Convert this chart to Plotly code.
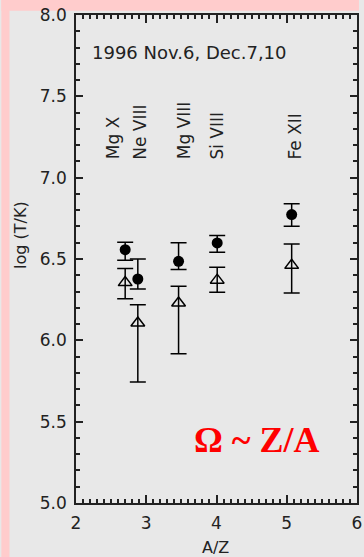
import plotly.graph_objects as go

# ---- data ----
ions = ["Mg X", "Ne VIII", "Mg VIII", "Si VIII", "Fe XII"]
az = [2.70, 2.88, 3.46, 4.01, 5.07]

t_filled = [6.557, 6.377, 6.486, 6.599, 6.773]
t_filled_plus = [0.046, 0.123, 0.114, 0.045, 0.067]
t_filled_minus = [0.065, 0.061, 0.051, 0.058, 0.072]

t_open = [6.355, 6.107, 6.230, 6.370, 6.461]
t_open_plus = [0.086, 0.111, 0.102, 0.079, 0.131]
t_open_minus = [0.099, 0.363, 0.312, 0.075, 0.170]

label_x = [2.53, 2.91, 3.55, 4.01, 5.12]
label_y = 7.10

x_ticks = [2, 3, 4, 5, 6]
y_ticks = [5.0, 5.5, 6.0, 6.5, 7.0, 7.5, 8.0]

title_text = "1996 Nov.6, Dec.7,10"
formula_text = "Ω ~ Z/A"

# ---- layout constants ----
W, H = 364, 557
L, R, T, B = 76, 2, 15, 54
PW, PH = W - L - R, H - T - B
PINK = "#FFCCCC"
GRAY = "#E8E8E8"
INK = "#222222"
FONT = "DejaVu Sans"


def px2fx(px):
    return (px - L) / PW


def py2fy(py):
    return (H - B - py) / PH


fig = go.Figure()

fig.add_trace(go.Scatter(
    x=az, y=t_filled, mode="markers",
    marker=dict(symbol="circle", size=11, color="black"),
    error_y=dict(type="data", symmetric=False, array=t_filled_plus,
                 arrayminus=t_filled_minus, color="black", thickness=1.5, width=8),
    showlegend=False, hoverinfo="skip",
))
fig.add_trace(go.Scatter(
    x=az, y=t_open, mode="markers",
    marker=dict(symbol="triangle-up-open", size=12, color="black",
                line=dict(width=1.5, color="black")),
    error_y=dict(type="data", symmetric=False, array=t_open_plus,
                 arrayminus=t_open_minus, color="black", thickness=1.5, width=8),
    showlegend=False, hoverinfo="skip",
))

annotations = []
for name, lx in zip(ions, label_x):
    annotations.append(dict(
        x=lx, y=label_y, xref="x", yref="y", text=name, showarrow=False,
        textangle=-90, xanchor="center", yanchor="bottom",
        font=dict(family=FONT, size=17, color=INK),
    ))
annotations.append(dict(
    x=2.2, y=7.77, xref="x", yref="y", text=title_text, showarrow=False,
    xanchor="left", yanchor="middle", font=dict(family=FONT, size=18, color=INK),
))
annotations.append(dict(
    x=4.58, y=5.39, xref="x", yref="y", text="<b>" + formula_text + "</b>",
    showarrow=False, xanchor="center", yanchor="middle",
    font=dict(family="Liberation Serif", size=36, color="#FF0000"),
))
annotations.append(dict(
    x=px2fx(20), y=py2fy(235), xref="paper", yref="paper", text="log (T/K)",
    showarrow=False, textangle=-90, xanchor="center", yanchor="middle",
    font=dict(family=FONT, size=16, color=INK),
))
annotations.append(dict(
    x=px2fx(218), y=py2fy(547), xref="paper", yref="paper", text="A/Z",
    showarrow=False, xanchor="center", yanchor="middle",
    font=dict(family=FONT, size=16, color=INK),
))

shapes = [
    dict(type="rect", xref="paper", yref="paper", layer="below",
         x0=px2fx(0), x1=px2fx(8.3), y0=py2fy(H), y1=py2fy(0),
         fillcolor=PINK, line=dict(width=0)),
    dict(type="rect", xref="paper", yref="paper", layer="below",
         x0=px2fx(0), x1=px2fx(W), y0=py2fy(10.7), y1=py2fy(0),
         fillcolor=PINK, line=dict(width=0)),
]

axis_common = dict(
    showgrid=False, zeroline=False, showline=True, linecolor=INK, linewidth=1.5,
    mirror="allticks", ticks="inside", tickcolor=INK, tickwidth=1.5,
    tickfont=dict(family=FONT, size=17, color=INK),
    ticklabeloverflow="allow",
)

fig.update_layout(
    width=W, height=H,
    margin=dict(l=L, r=R, t=T, b=B, pad=0),
    paper_bgcolor=GRAY, plot_bgcolor=GRAY,
    showlegend=False,
    annotations=annotations,
    shapes=shapes,
    xaxis=dict(range=[2, 6], tickvals=x_ticks, ticktext=[str(v) for v in x_ticks],
               ticklen=8, ticklabelstandoff=4,
               minor=dict(dtick=0.1, ticks="inside", ticklen=4, tickcolor=INK,
                          tickwidth=1.5, showgrid=False),
               **axis_common),
    yaxis=dict(range=[5, 8], tickvals=y_ticks, ticktext=[f"{v:.1f}" for v in y_ticks],
               ticklen=7, ticklabelstandoff=4,
               minor=dict(dtick=0.1, ticks="inside", ticklen=4, tickcolor=INK,
                          tickwidth=1.5, showgrid=False),
               **axis_common),
)

fig.write_html(
    "out.html",
    config={"displayModeBar": False},
    post_script="document.body.style.margin='0px';document.body.style.overflow='hidden';",
)
